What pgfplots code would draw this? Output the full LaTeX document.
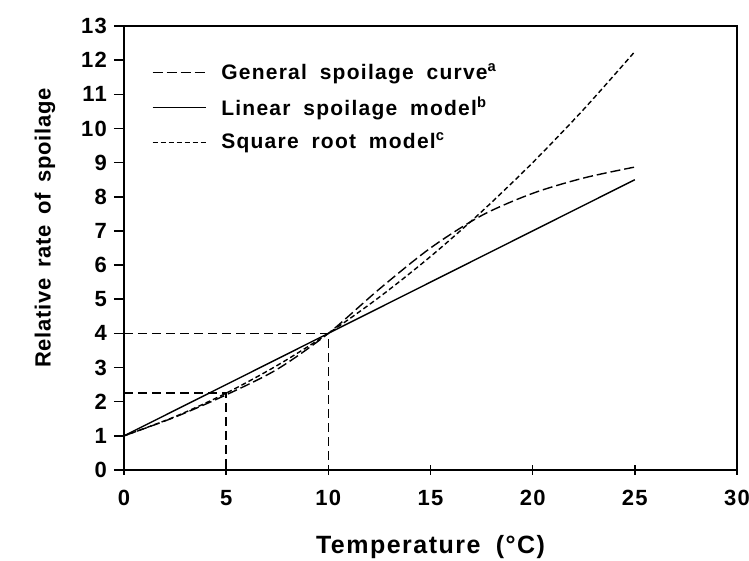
\documentclass[border=0pt]{standalone}
\usepackage{fontspec}
\setmainfont{Liberation Sans}[LetterSpace=6, WordSpace=1.8]
\newfontfamily\ylabfont{Liberation Sans}[LetterSpace=3, WordSpace=1.6]
\usepackage{pgfplots}
\pgfplotsset{compat=1.18}

\begin{document}
\begin{tikzpicture}
\begin{axis}[
    scale only axis,
    width=306.5pt, height=222pt,
    xmin=0, xmax=30, ymin=0, ymax=13,
    xtick={0,5,...,30},
    ytick={0,1,...,13},
    xtick pos=bottom, ytick pos=left,
    xtick align=center, ytick align=outside,
    major tick length=5pt,
    axis line style={line width=0.9pt},
    tick style={line width=0.8pt, black},
    /pgf/number format/assume math mode=true,
    tick label style={font=\bfseries\fontsize{11}{13}\selectfont},
    xticklabel style={yshift=-4pt},
    xlabel={Temperature (°C)},
    ylabel={Relative rate of spoilage},
    xlabel style={font=\bfseries\fontsize{12.5}{14}\selectfont,
                  at={(axis description cs:0.5,-0.173)}, anchor=center},
    ylabel style={font=\ylabfont\bfseries\fontsize{11}{14}\selectfont,
                  at={(axis description cs:-0.129,0.545)}, anchor=center},
    legend style={draw=none, fill=none, at={(0.035,0.935)}, anchor=north west,
                  font=\bfseries\fontsize{10.5}{12}\selectfont, row sep=3.3pt},
    legend cell align=left,
    legend image code/.code={\draw[#1] (0pt,0pt) -- (26.5pt,0pt); \path (32pt,0pt);},
]
% general spoilage curve
\addplot[black, line width=0.7pt, dash pattern=on 5pt off 2pt, smooth] coordinates {
    (0,1.0) (2.5,1.55) (5,2.2) (7.5,2.95) (10,4.0) (12.5,5.3) (15,6.5)
    (17.5,7.45) (20,8.1) (22.5,8.55) (25,8.87)
};
\addlegendentry{General spoilage curve\textsuperscript{a}}
% linear model
\addplot[black, line width=0.7pt] coordinates {
    (0,1.0) (25,8.5)
};
\addlegendentry{Linear spoilage model\textsuperscript{b}}
% square root model
\addplot[black, line width=0.7pt, dash pattern=on 2.5pt off 1.5pt, smooth] coordinates {
    (0,1.0) (2.5,1.5625) (5,2.25) (7.5,3.0625) (10,4.0) (12.5,5.0625)
    (15,6.25) (17.5,7.5625) (20,9.0) (22.5,10.5625) (25,12.25)
};
\addlegendentry{Square root model\textsuperscript{c}}
% reference lines
\addplot[black, line width=0.75pt, dash pattern=on 4.5pt off 2.5pt, forget plot] coordinates {
    (0,4) (10,4) (10,0)
};
\addplot[black, line width=0.75pt, dash pattern=on 4.5pt off 2.5pt, forget plot] coordinates {
    (0,2.25) (5,2.25) (5,0)
};
\coordinate (bl) at (rel axis cs:0,0);
\coordinate (tr) at (rel axis cs:1,1);
\end{axis}
\pgfresetboundingbox
\path ([shift={(-62pt,-45.5pt)}]bl) rectangle ([shift={(6pt,13pt)}]tr);
\end{tikzpicture}
\end{document}
